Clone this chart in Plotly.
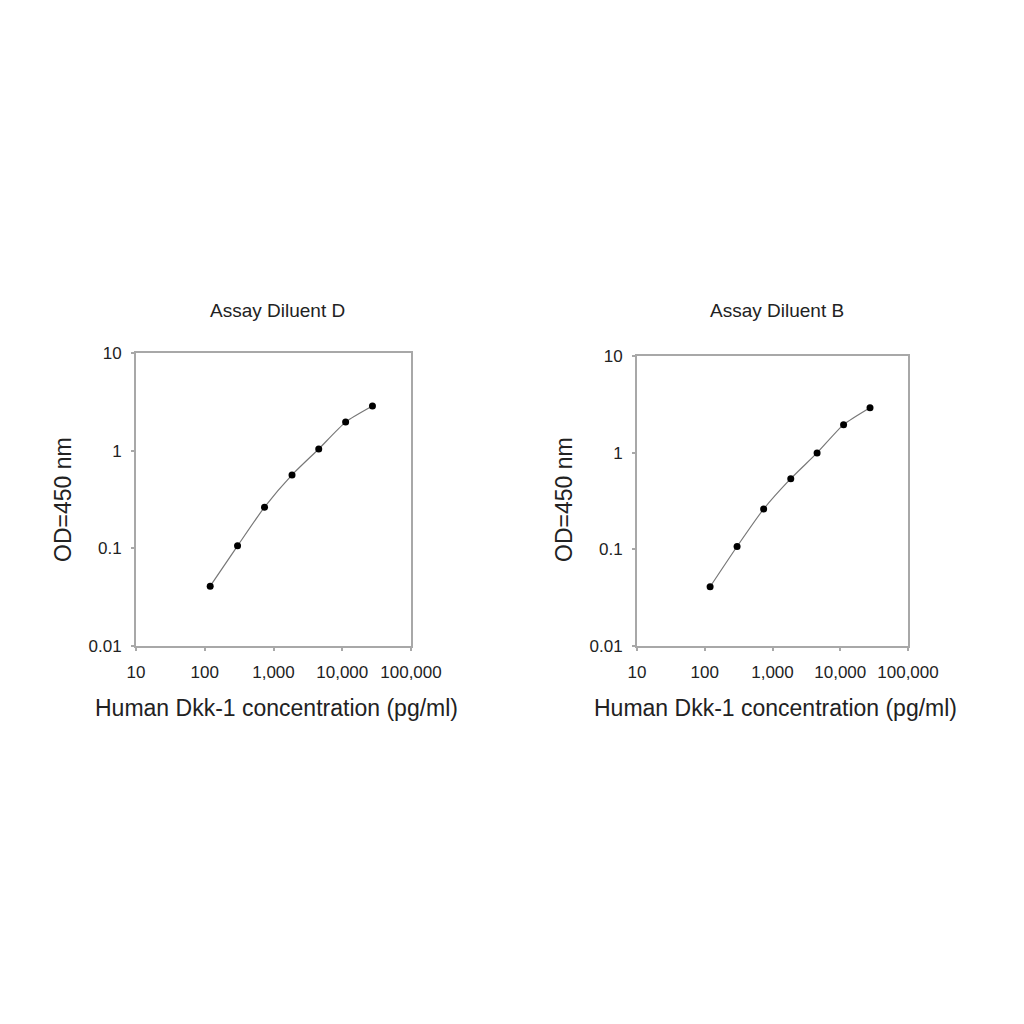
import plotly.graph_objects as go

# standard curve readings, Human Dkk-1 (pg/ml) vs OD450
conc = [120, 300, 740, 1860, 4550, 11200, 27500]
od_diluent_d = [0.041, 0.106, 0.264, 0.565, 1.04, 1.96, 2.86]
od_diluent_b = [0.041, 0.107, 0.261, 0.538, 0.995, 1.95, 2.92]

x_ticks = [10, 100, 1000, 10000, 100000]
x_ticktext = ["10", "100", "1,000", "10,000", "100,000"]
y_ticks = [0.01, 0.1, 1, 10]
y_ticktext = ["0.01", "0.1", "1", "10"]

panel_titles = ["Assay Diluent D", "Assay Diluent B"]
x_title = "Human Dkk-1 concentration (pg/ml)"
y_title = "OD=450 nm"

FONT = "Liberation Sans, Arial, sans-serif"
frame = "#a8a8a8"
W = H = 1024
PAD = 8  # page body margin of the browser

fig = go.Figure()

for i, od in enumerate([od_diluent_d, od_diluent_b]):
    sfx = "" if i == 0 else "2"
    fig.add_trace(go.Scatter(
        x=conc, y=od, mode="lines+markers",
        line=dict(color="#777777", width=1.2, shape="spline", smoothing=0.6),
        marker=dict(color="black", size=7),
        xaxis="x" + sfx, yaxis="y" + sfx, showlegend=False,
    ))

xax = dict(type="log", range=[1, 5], tickvals=x_ticks, ticktext=x_ticktext,
           showgrid=False, zeroline=False, showline=True, mirror=True,
           linecolor=frame, linewidth=2, ticks="outside", tickcolor=frame,
           ticklen=3, tickwidth=1.5, automargin=False, ticklabelstandoff=7,
           tickfont=dict(family=FONT, size=17, color="#222"))
yax = dict(type="log", range=[-2, 1], tickvals=y_ticks, ticktext=y_ticktext,
           showgrid=False, zeroline=False, showline=True, mirror=True,
           linecolor=frame, linewidth=2, ticks="outside", tickcolor=frame,
           ticklen=3, tickwidth=1.5, automargin=False, ticklabelstandoff=6,
           tickfont=dict(family=FONT, size=17, color="#222"))

# pixel boxes of the two panels in the screenshot (left, right, top, bottom)
boxes = [(136, 411, 353, 646), (637, 908, 356, 646)]

fig.update_layout(
    width=W, height=H,
    margin=dict(l=0, r=0, t=0, b=0),
    paper_bgcolor="white", plot_bgcolor="white",
)
for i, (l, r, t, b) in enumerate(boxes):
    sfx = "" if i == 0 else "2"
    l, r, t, b = l - PAD, r - PAD, t - PAD, b - PAD
    fig.update_layout({
        "xaxis" + sfx: dict(xax, domain=[l / W, r / W], anchor="y" + sfx),
        "yaxis" + sfx: dict(yax, domain=[1 - b / H, 1 - t / H], anchor="x" + sfx),
    })
    cx = (l + r) / 2
    fig.add_annotation(text=panel_titles[i], x=(cx + 4) / W, y=1 - (310 - PAD) / H,
                       xref="paper", yref="paper", showarrow=False,
                       xanchor="center", yanchor="middle",
                       font=dict(family=FONT, size=19, color="#222"))
    fig.add_annotation(text=x_title, x=(cx + 3) / W, y=1 - (708 - PAD) / H,
                       xref="paper", yref="paper", showarrow=False,
                       xanchor="center", yanchor="middle",
                       font=dict(family=FONT, size=23, color="#222"))
    fig.add_annotation(text=y_title, x=(l - 73) / W, y=1 - (500 - PAD) / H,
                       xref="paper", yref="paper", showarrow=False, textangle=-90,
                       xanchor="center", yanchor="middle",
                       font=dict(family=FONT, size=23, color="#222"))

fig.write_html("out.html")
